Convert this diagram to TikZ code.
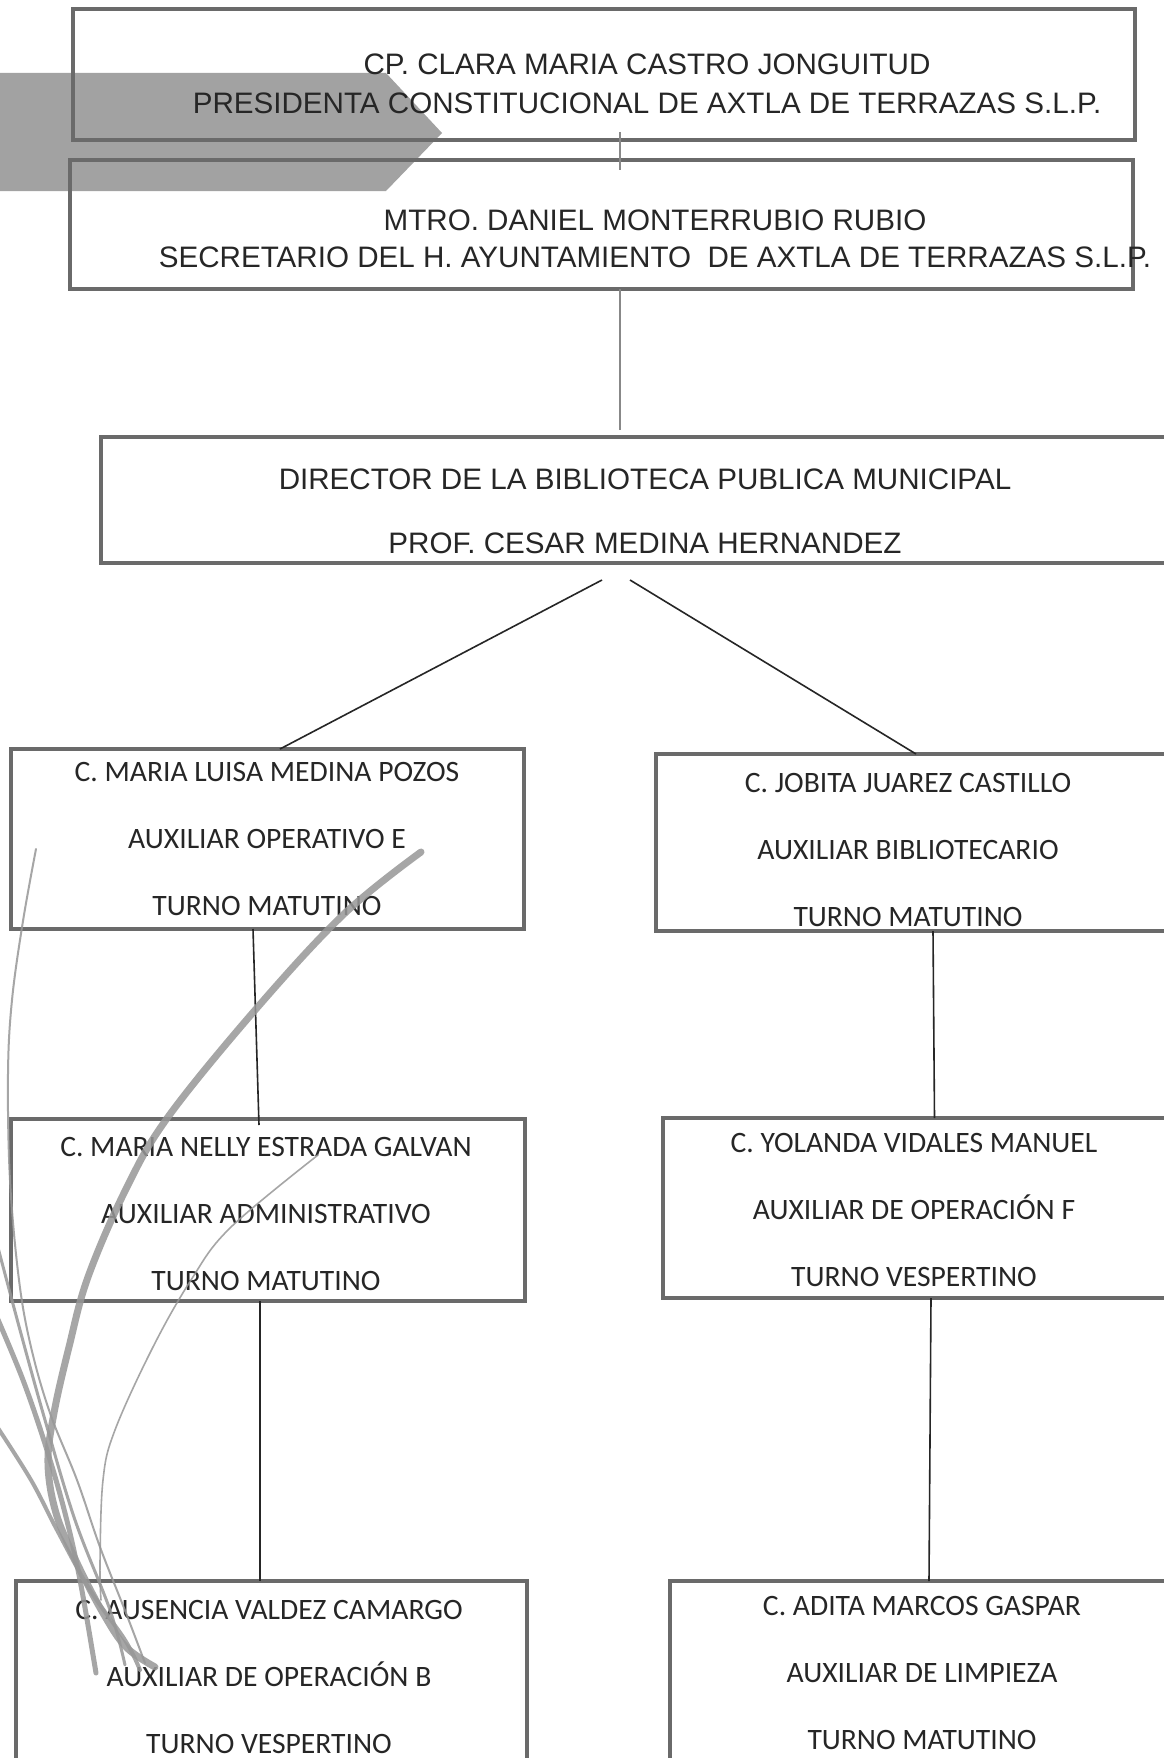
\documentclass[tikz,border=0pt]{standalone}
\usepackage{fontspec}
\setmainfont{Liberation Sans}
\newfontfamily\calib{Carlito}
\definecolor{boxline}{HTML}{6A6A6A}
\definecolor{txtc}{HTML}{262626}
\definecolor{arrowgrey}{HTML}{A2A2A2}
\definecolor{decor}{HTML}{979797}
\begin{document}
\begin{tikzpicture}[x=1pt,y=-1pt,
  orgbox/.style={draw=boxline, line width=3.5pt, inner sep=0pt, outer sep=0pt},
  toptxt/.style={text=txtc, align=center, inner sep=0pt, font=\fontsize{29.6}{#1}\selectfont},
  lowtxt/.style={text=txtc, align=center, inner sep=0pt, font=\calib\fontsize{29.6}{67}\selectfont},
  greylink/.style={draw=decor!90!black, line width=2.2pt},
  darklink/.style={draw=black!85, line width=1.6pt},
  ribbon/.style={draw=decor, line cap=round, opacity=0.85}
]
\useasboundingbox (0,0) rectangle (1163,1758);
\fill[white] (0,0) rectangle (1163,1758);

% grey arrow banner behind the top boxes
\fill[arrowgrey] (-5,73) -- (386,73) -- (442,133) -- (386,191) -- (-5,191) -- cycle;

% boxes
\node[orgbox, minimum width=1062pt, minimum height=131pt] (b1) at (604,74.5) {};
\node[orgbox, minimum width=1063pt, minimum height=129pt] (b2) at (601.5,224.5) {};
\node[orgbox, minimum width=1088pt, minimum height=126pt] (b3) at (645,500) {};
\node[orgbox, minimum width=513pt, minimum height=180pt] (b4) at (267.5,839) {};
\node[orgbox, minimum width=514pt, minimum height=177pt] (b5) at (913,842.5) {};
\node[orgbox, minimum width=514pt, minimum height=182pt] (b6) at (268,1210) {};
\node[orgbox, minimum width=507pt, minimum height=180pt] (b7) at (916.5,1208) {};
\node[orgbox, minimum width=511pt, minimum height=194pt] (b8) at (271.5,1678) {};
\node[orgbox, minimum width=505pt, minimum height=194pt] (b9) at (922.5,1678) {};

% texts
\node[toptxt=39] (t1) at (647,83.5) {CP. CLARA MARIA CASTRO JONGUITUD\\PRESIDENTA CONSTITUCIONAL DE AXTLA DE TERRAZAS S.L.P.};
\node[toptxt=37] (t2) at (655,238.5) {MTRO. DANIEL MONTERRUBIO RUBIO\\SECRETARIO DEL H. AYUNTAMIENTO\ \ DE AXTLA DE TERRAZAS S.L.P.};
\node[toptxt=64] (t3) at (645,511) {DIRECTOR DE LA BIBLIOTECA PUBLICA MUNICIPAL\\PROF. CESAR MEDINA HERNANDEZ};
\node[lowtxt] (t4) at (267,839) {C. MARIA LUISA MEDINA POZOS\\AUXILIAR OPERATIVO E\\TURNO MATUTINO};
\node[lowtxt] (t5) at (908,850) {C. JOBITA JUAREZ CASTILLO\\AUXILIAR BIBLIOTECARIO\\TURNO MATUTINO};
\node[lowtxt] (t6) at (266,1214) {C. MARIA NELLY ESTRADA GALVAN\\AUXILIAR ADMINISTRATIVO\\TURNO MATUTINO};
\node[lowtxt] (t7) at (914,1210) {C. YOLANDA VIDALES MANUEL\\AUXILIAR DE OPERACIÓN F\\TURNO VESPERTINO};
\node[lowtxt] (t8) at (269,1677) {C. AUSENCIA VALDEZ CAMARGO\\AUXILIAR DE OPERACIÓN B\\TURNO VESPERTINO};
\node[lowtxt] (t9) at (922,1673) {C. ADITA MARCOS GASPAR\\AUXILIAR DE LIMPIEZA\\TURNO MATUTINO};

% connectors
\draw[greylink] ([xshift=16pt,yshift=8pt]b1.south) -- ([xshift=18.5pt,yshift=-10pt]b2.north);
\draw[greylink] ([xshift=18.5pt]b2.south) -- ([xshift=-25pt,yshift=7pt]b3.north);
\draw[darklink] ([xshift=-43pt,yshift=-17pt]b3.south) -- ([xshift=12.5pt]b4.north);
\draw[darklink] ([xshift=-15pt,yshift=-17pt]b3.south) -- ([xshift=3pt]b5.north);
\draw[darklink] ([xshift=-14.5pt]b4.south) -- ([xshift=-9pt,yshift=-6pt]b6.north);
\draw[darklink] ([xshift=-8pt]b6.south) -- ([xshift=-11.5pt]b8.north);
\draw[darklink] ([xshift=20pt]b5.south) -- ([xshift=18pt]b7.north);
\draw[darklink] ([xshift=14.5pt]b7.south) -- ([xshift=6.5pt]b9.north);

% decorative grey ribbons (bottom left)
\draw[ribbon, line width=7pt] plot[smooth, tension=0.6] coordinates {(421,852) (344,914) (256,1009) (168,1117) (126,1189) (88,1277) (69,1347) (54,1413) (48,1463) (56,1513) (77,1563) (103,1613) (126,1647) (155,1667)};
\draw[ribbon, line width=2pt] plot[smooth, tension=0.6] coordinates {(36,849) (23,921) (12,1000) (8,1074) (10,1180) (19,1280) (31,1347) (50,1413) (77,1480) (100,1547) (126,1613) (145,1663)};
\draw[ribbon, line width=1.6pt] plot[smooth, tension=0.6] coordinates {(318,1155) (230,1228) (191,1280) (153,1347) (115,1430) (103,1480) (100,1563) (101,1600)};
\draw[ribbon, line width=5pt] plot[smooth, tension=0.6] coordinates {(-4,1315) (23,1380) (46,1447) (65,1513) (80,1580) (96,1673)};
\draw[ribbon, line width=4pt] plot[smooth, tension=0.6] coordinates {(-4,1425) (31,1480) (57,1530) (90,1590) (125,1640) (140,1670)};
\draw[ribbon, line width=3pt] plot[smooth, tension=0.6] coordinates {(-4,1240) (20,1330) (45,1420) (75,1520) (110,1610) (125,1665)};
\end{tikzpicture}
\end{document}
